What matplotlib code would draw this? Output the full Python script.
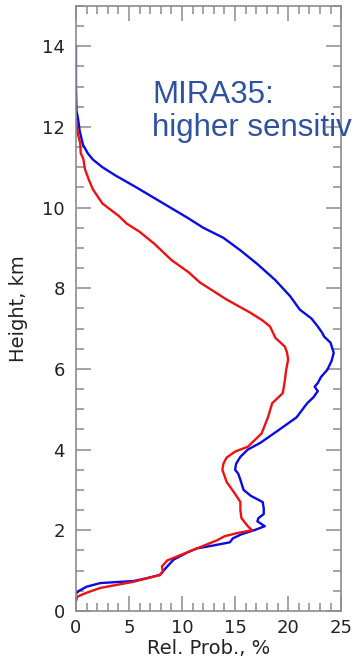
import matplotlib
matplotlib.use("Agg")
import matplotlib.pyplot as plt
from matplotlib.ticker import MultipleLocator

# blue profile (MIRA35): height in km, relative probability in %
blue_h = [14.0, 13.0, 12.4, 12.2, 11.9, 11.56, 11.35, 11.19, 11.0, 10.8, 10.5, 10.25,
          10.0, 9.75, 9.5, 9.25, 8.94, 8.6, 8.2, 7.8, 7.47, 7.25, 7.05, 6.9, 6.8, 6.65,
          6.4, 6.2, 5.98, 5.8, 5.65, 5.56, 5.45, 5.3, 5.15, 4.8, 4.5, 4.17, 4.0, 3.82,
          3.65, 3.5, 3.4, 3.25, 3.0, 2.85, 2.7, 2.55, 2.4, 2.3, 2.22, 2.1, 2.0, 1.9,
          1.8, 1.7, 1.6, 1.55, 1.45, 1.27, 1.1, 0.89, 0.8, 0.74, 0.69, 0.6, 0.5, 0.44]
blue_p = [0.0, 0.0, 0.05, 0.2, 0.35, 0.66, 1.1, 1.6, 2.5, 3.7, 5.7, 7.3,
          8.9, 10.5, 12.0, 13.9, 15.5, 17.1, 18.8, 20.2, 21.1, 22.2, 22.8, 23.2, 23.4, 24.0,
          24.3, 24.1, 23.7, 23.1, 22.8, 22.5, 22.8, 22.4, 21.8, 20.8, 19.2, 17.4, 16.2, 15.5,
          15.1, 15.0, 15.3, 15.5, 15.8, 16.5, 17.6, 17.7, 17.7, 17.2, 17.1, 17.8, 16.8, 15.6,
          14.8, 14.5, 12.5, 11.4, 10.5, 9.2, 8.6, 7.9, 6.5, 5.4, 2.3, 1.0, 0.3, 0.05]

# red profile
red_h = [12.2, 12.0, 11.8, 11.6, 11.35, 11.2, 10.95, 10.7, 10.45, 10.1, 9.8, 9.6,
         9.4, 9.1, 8.7, 8.4, 8.14, 7.72, 7.4, 7.2, 7.05, 6.77, 6.55, 6.4, 6.23, 5.95,
         5.73, 5.4, 5.15, 4.8, 4.4, 4.07, 3.95, 3.8, 3.65, 3.5, 3.35, 3.2, 2.9, 2.7,
         2.5, 2.3, 2.1, 2.0, 1.93, 1.85, 1.75, 1.58, 1.4, 1.25, 1.1, 0.97, 0.89, 0.72,
         0.57, 0.45, 0.35, 0.28]
red_p = [0.0, 0.1, 0.2, 0.4, 0.45, 0.7, 0.85, 1.2, 1.6, 2.5, 4.0, 4.8,
         6.0, 7.4, 9.0, 10.6, 11.7, 14.2, 16.4, 17.6, 18.3, 18.8, 19.7, 19.9, 20.0, 19.8,
         19.7, 19.5, 18.5, 18.1, 17.5, 16.2, 15.0, 14.2, 13.9, 13.8, 14.0, 14.2, 15.0, 15.5,
         15.5, 15.6, 16.2, 16.6, 15.2, 14.0, 13.3, 11.7, 10.0, 8.6, 8.1, 8.2, 7.9, 5.4,
         2.3, 1.0, 0.1, 0.05]

fig = plt.figure(figsize=(3.55, 6.59), dpi=100)
ax = fig.add_axes([0.214, 0.073, 0.747, 0.918])

ax.plot(blue_p, blue_h, color='#0a0ae6', lw=1.7)
ax.plot(red_p, red_h, color='#ee1111', lw=1.7)

ax.set_xlim(0, 25)
ax.set_ylim(0, 15)
ax.xaxis.set_major_locator(MultipleLocator(5))
ax.xaxis.set_minor_locator(MultipleLocator(1))
ax.yaxis.set_major_locator(MultipleLocator(2))
ax.yaxis.set_minor_locator(MultipleLocator(0.5))

gray = '#8c8c8c'
for s in ax.spines.values():
    s.set_color(gray)
    s.set_linewidth(1.2)
ax.tick_params(which='both', direction='in', top=True, right=True, color=gray,
               labelcolor='#222222', labelsize=13, width=1.1)
ax.tick_params(which='major', length=11)
ax.tick_params(which='minor', length=5.5)
ax.tick_params(axis='y', pad=8)
ax.tick_params(axis='x', pad=6)

ax.set_xlabel('Rel. Prob., %', fontsize=14, color='#222222', labelpad=1)
ax.set_ylabel('Height, km', fontsize=14, color='#222222')
ax.yaxis.set_label_coords(-0.181, 0.5)

fig.text(152 / 355, 1 - 103 / 659, 'MIRA35:', fontsize=22.5, color='#2f52a0',
         family='Liberation Sans', va='baseline', ha='left')
fig.text(152 / 355, 1 - 136 / 659, 'higher sensitiv', fontsize=22.5, color='#2f52a0',
         family='Liberation Sans', va='baseline', ha='left')

fig.savefig('out.png', dpi=100)
